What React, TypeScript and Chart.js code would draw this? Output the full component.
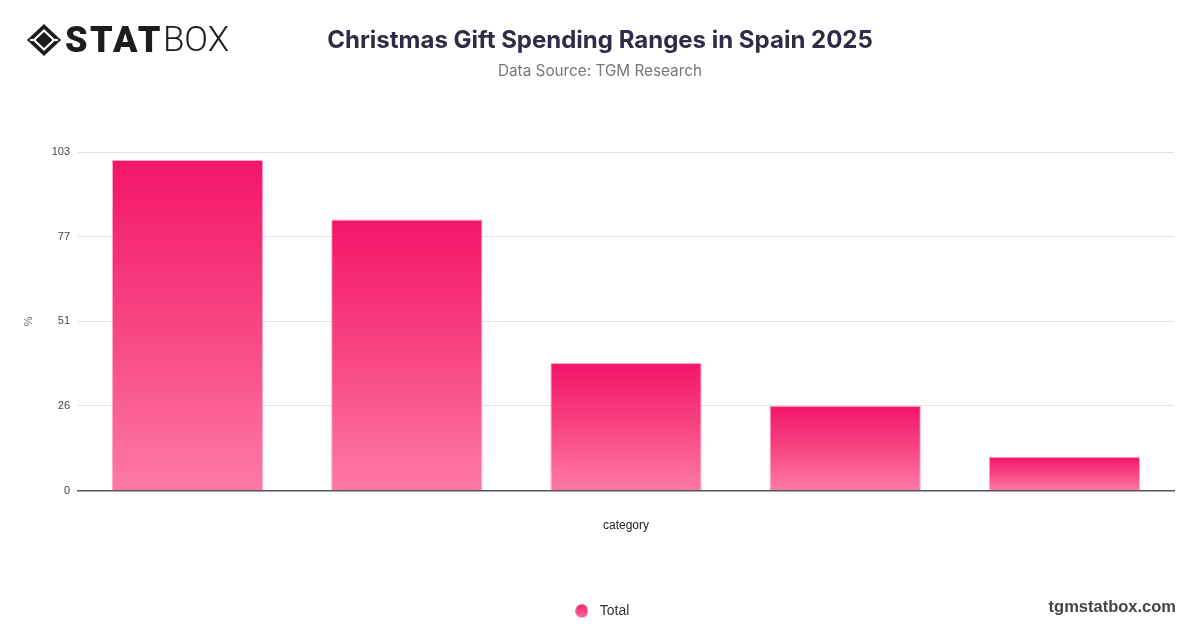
import React, { useEffect, useRef } from "react";
import { Chart, registerables } from "chart.js";

Chart.register(...registerables);

const categories = ["Less than €50", "€50 – €100", "€100 – €200", "€200 – €500", "More than €500"];
const totalValues = [100.6, 82.5, 38.8, 25.8, 10.3];
const yTickLabels = ["0", "26", "51", "77", "103"];
const yMax = 103;
const seriesName = "Total";
const titleText = "Christmas Gift Spending Ranges in Spain 2025";
const subtitleText = "Data Source: TGM Research";
const xTitle = "category";
const yTitle = "%";

const FONT = "'Liberation Sans', Arial, Helvetica, sans-serif";

function makeLegendDot(): HTMLCanvasElement {
  const c = document.createElement("canvas");
  c.width = 13;
  c.height = 14;
  const g = c.getContext("2d")!;
  const grad = g.createLinearGradient(0, 0, 0, 14);
  grad.addColorStop(0, "#f2226f");
  grad.addColorStop(1, "#fb6a9b");
  g.fillStyle = grad;
  g.beginPath();
  g.ellipse(6.5, 7, 6.3, 6.8, 0, 0, Math.PI * 2);
  g.fill();
  return c;
}

function Logo() {
  return (
    <div style={{ position: "absolute", left: 26, top: 22, display: "flex", alignItems: "center", height: 36 }}>
      <svg width="36" height="34" viewBox="0 0 36 34" style={{ marginRight: 3 }}>
        <polygon points="18,1 35,17 18,33 1,17" fill="#1c1c1c" />
        <polygon points="18,6 29.5,17 18,28 6.5,17" fill="#fff" />
        <polygon points="18,9 26.5,17 18,25 9.5,17" fill="#1c1c1c" />
        <line x1="4" y1="17" x2="9" y2="17" stroke="#fff" strokeWidth="2" />
        <line x1="27" y1="17" x2="32" y2="17" stroke="#fff" strokeWidth="2" />
      </svg>
      <span style={{ fontFamily: "Roboto, 'Noto Sans', sans-serif", fontWeight: 900, fontSize: 36, color: "#1c1c1c", letterSpacing: 2.4, lineHeight: "36px" }}>STAT</span>
      <span style={{ fontFamily: "Roboto, 'Noto Sans', sans-serif", fontWeight: 300, fontSize: 35, color: "#1c1c1c", lineHeight: "36px" }}>BOX</span>
    </div>
  );
}

export default function App() {
  const canvasRef = useRef<HTMLCanvasElement | null>(null);

  useEffect(() => {
    if (!canvasRef.current) return;
    const dot = makeLegendDot();
    const chart = new Chart(canvasRef.current, {
      type: "bar",
      data: {
        labels: categories,
        datasets: [
          {
            label: seriesName,
            data: totalValues,
            backgroundColor: (c: any) => {
              const ch = c.chart;
              const area = ch.chartArea;
              if (!area || c.type !== "data" || !ch.scales.y) return "#f2407c";
              const ys = ch.scales.y;
              const v = c.parsed ? c.parsed.y : c.raw;
              const top = ys.getPixelForValue(v);
              const bottom = ys.getPixelForValue(0);
              const g = ch.ctx.createLinearGradient(0, top, 0, bottom);
              g.addColorStop(0, "#f31569");
              g.addColorStop(0.5, "#f74583");
              g.addColorStop(1, "#fd7aa6");
              return g;
            },
            borderColor: "rgba(255,160,195,0.9)",
            borderWidth: 1,
            barPercentage: 1,
            categoryPercentage: 0.69,
          },
        ],
      },
      options: {
        animation: false,
        responsive: true,
        maintainAspectRatio: false,
        font: { family: FONT },
        layout: { padding: { top: 152, left: 0, right: 0, bottom: 0 } },
        plugins: {
          title: { display: false },
          tooltip: { enabled: false },
          legend: {
            display: true,
            position: "bottom",
            labels: {
              usePointStyle: true,
              pointStyle: dot,
              boxHeight: 10,
              pointStyleWidth: 22,
              padding: 10,
              color: "#333",
              font: { size: 14, family: FONT },
              generateLabels: (ch: any) => {
                const items = (Chart.defaults.plugins.legend.labels as any).generateLabels(ch);
                items.forEach((it: any) => {
                  it.pointStyle = dot;
                  it.fillStyle = "#f2407c";
                  it.strokeStyle = "#f2407c";
                  it.lineWidth = 0;
                });
                return items;
              },
            },
          },
        },
        scales: {
          x: {
            grid: { display: false, drawTicks: false },
            border: { display: true, color: "#555", width: 1.5 },
            ticks: { display: false },
            title: {
              display: true,
              text: xTitle,
              color: "#222",
              font: { size: 12, family: FONT },
              padding: { top: 28, bottom: 61 },
            },
          },
          y: {
            min: 0,
            max: yMax,
            grid: { color: "#e3e3e3", lineWidth: 1, drawTicks: false },
            border: { display: false },
            ticks: {
              stepSize: yMax / (yTickLabels.length - 1),
              padding: 8,
              color: "#444",
              font: { size: 11, family: FONT },
              callback: (_v: any, i: number) => yTickLabels[i],
            },
            title: {
              display: true,
              text: yTitle,
              color: "#666",
              font: { size: 11, family: FONT },
              padding: { top: 22, bottom: 0 },
            },
            afterFit: (s: any) => {
              s.width = 78;
            },
          },
          yRight: {
            position: "right",
            display: true,
            grid: { display: false, drawTicks: false },
            border: { display: false },
            ticks: { display: false },
            afterFit: (s: any) => {
              s.width = 26;
            },
          },
        },
      } as any,
    });
    return () => chart.destroy();
  }, []);

  return (
    <div style={{ position: "relative", width: 1200, height: 628, background: "#fff", overflow: "hidden" }}>
      <style>{`body{margin:0;}`}</style>
      <div style={{ position: "absolute", left: 0, top: 0, width: 1200, height: 628 }}>
        <canvas ref={canvasRef} />
      </div>
      <Logo />
      <div
        style={{
          position: "absolute",
          left: 0,
          width: 1200,
          top: 24,
          textAlign: "center",
          fontFamily: "Inter, sans-serif",
          fontWeight: 700,
          fontSize: 24,
          lineHeight: "32px",
          color: "#2f2c48",
        }}
      >
        {titleText}
      </div>
      <div
        style={{
          position: "absolute",
          left: 0,
          width: 1200,
          top: 60,
          textAlign: "center",
          fontFamily: "Inter, sans-serif",
          fontSize: 15.3,
          lineHeight: "22px",
          color: "#777",
        }}
      >
        {subtitleText}
      </div>
      <div
        style={{
          position: "absolute",
          right: 24,
          top: 595,
          fontFamily: FONT,
          fontWeight: 700,
          fontSize: 16.5,
          lineHeight: "22px",
          color: "#444",
        }}
      >
        tgmstatbox.com
      </div>
    </div>
  );
}
